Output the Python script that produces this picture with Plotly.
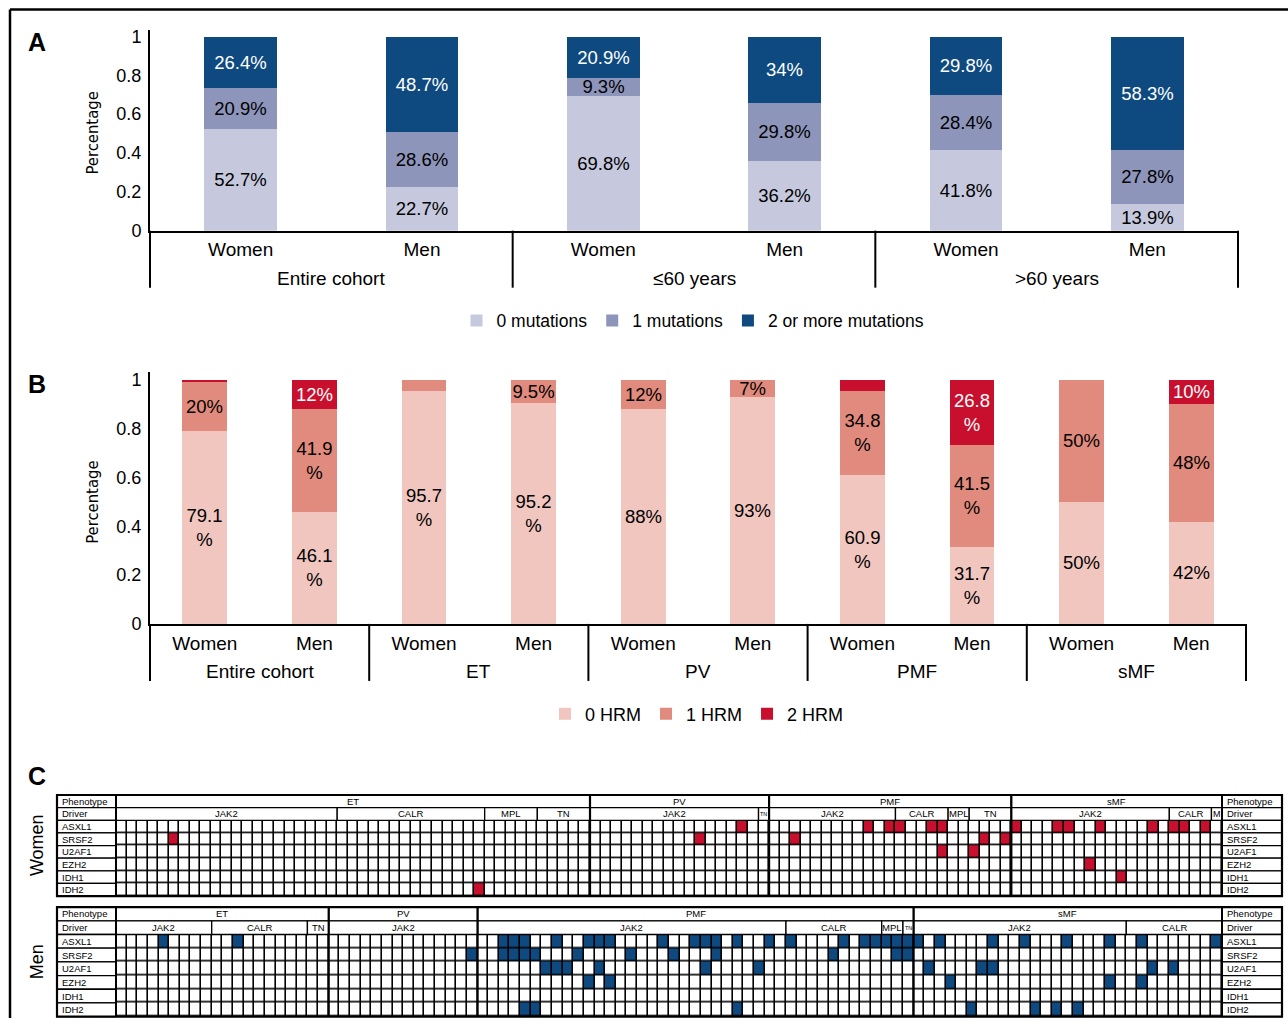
import plotly.graph_objects as go

W, H = 1288, 1028
# vertical correction measured from the photographed page (render = 3.5 + 0.9867*layout)
V_OFF, V_SC = 3.5, 0.9867


def px(x):
    return x / W


def ly(y):
    return min(H, max(0.0, (y - V_OFF) / V_SC))


def py(y):
    return 1 - ly(y) / H


FONT = "Liberation Sans, Arial, Helvetica, sans-serif"
NARROW = "Liberation Sans Narrow, DejaVu Sans Condensed, Arial Narrow, sans-serif"

# ---------------- Panel A data ----------------
a_groups = ["Entire cohort", "\u226460 years", ">60 years"]
a_sexes = ["Women", "Men"]
a_series = ["0 mutations", "1 mutations", "2 or more mutations"]
a_zero = [52.7, 22.7, 69.8, 36.2, 41.8, 13.9]
a_one = [20.9, 28.6, 9.3, 29.8, 28.4, 27.8]
a_two = [26.4, 48.7, 20.9, 34.0, 29.8, 58.3]

# ---------------- Panel B data ----------------
b_groups = ["Entire cohort", "ET", "PV", "PMF", "sMF"]
b_sexes = ["Women", "Men"]
b_series = ["0 HRM", "1 HRM", "2 HRM"]
b_zero = [79.1, 46.1, 95.7, 90.5, 88.0, 93.0, 60.9, 31.7, 50.0, 42.0]
b_one = [20.0, 41.9, 4.3, 9.5, 12.0, 7.0, 34.8, 41.5, 50.0, 48.0]
b_two = [0.9, 12.0, 0.0, 0.0, 0.0, 0.0, 4.3, 26.8, 0.0, 10.0]
b_zero_lbl = ["79.1<br>%", "46.1<br>%", "95.7<br>%", "95.2<br>%", "88%", "93%",
              "60.9<br>%", "31.7<br>%", "50%", "42%"]
b_one_lbl = ["20%", "41.9<br>%", "", "9.5%", "12%", "7%",
             "34.8<br>%", "41.5<br>%", "50%", "48%"]
b_two_lbl = ["", "12%", "", "", "", "", "", "26.8<br>%", "", "10%"]

# ---------------- Panel C data ----------------
c_rows = ["Phenotype", "Driver", "ASXL1", "SRSF2", "U2AF1", "EZH2", "IDH1", "IDH2"]
c_genes = c_rows[2:]

w_pheno = ["ET", "PV", "PMF", "sMF"]
w_pheno_n = [45, 17, 23, 20]
w_driver = ["JAK2", "CALR", "MPL", "TN", "JAK2", "TN", "JAK2", "CALR", "MPL", "TN",
            "JAK2", "CALR", "M"]
w_driver_n = [21, 14, 5, 5, 16, 1, 12, 5, 2, 4, 15, 4, 1]
w_mut = {
    "ASXL1": [59, 71, 73, 74, 77, 78, 85, 89, 90, 93, 98, 100, 101, 103],
    "SRSF2": [5, 55, 64, 82, 84],
    "U2AF1": [78, 81],
    "EZH2": [92],
    "IDH1": [95],
    "IDH2": [34],
}

m_pheno = ["ET", "PV", "PMF", "sMF"]
m_pheno_n = [20, 14, 41, 29]
m_driver = ["JAK2", "CALR", "TN", "JAK2", "JAK2", "CALR", "MPL", "TN", "JAK2", "CALR"]
m_driver_n = [9, 9, 2, 14, 29, 9, 2, 1, 20, 9]
m_mut = {
    "ASXL1": [4, 11, 36, 37, 38, 41, 44, 45, 46, 51, 54, 55, 56, 58, 61,
              63, 68, 70, 71, 72, 73, 74, 75, 77, 82, 85, 89, 93, 96, 103],
    "SRSF2": [33, 36, 37, 38, 39, 43, 48, 52, 56, 67, 73, 74],
    "U2AF1": [40, 41, 42, 45, 55, 60, 76, 81, 82, 97, 99],
    "EZH2": [44, 46, 78, 93, 96],
    "IDH1": [],
    "IDH2": [38, 39, 58, 80, 86, 88, 90],
}

A_COLORS = ["#c6c9de", "#8e95bb", "#0e4a80"]
B_COLORS = ["#f1c6bf", "#e08b7d", "#c8102e"]
RED = "#c8102e"
BLUE = "#0e4a80"

fig = go.Figure()

# ---------------- Panel A bars ----------------
for vals, name, col, tcol in zip([a_zero, a_one, a_two], a_series, A_COLORS,
                                 ["black", "black", "white"]):
    fig.add_trace(go.Bar(
        x=list(range(len(vals))), y=[v / 100 for v in vals], width=0.4, name=name,
        marker=dict(color=col, line_width=0),
        text=[f"{v:g}%" for v in vals], textposition="inside",
        insidetextanchor="middle", textangle=0,
        textfont=dict(color=tcol, size=18.5, family=FONT),
        xaxis="x", yaxis="y", legend="legend", hoverinfo="skip"))

# ---------------- Panel B bars ----------------
for vals, lbls, name, col, tcol in zip([b_zero, b_one, b_two],
                                       [b_zero_lbl, b_one_lbl, b_two_lbl],
                                       b_series, B_COLORS, ["black", "black", "white"]):
    fig.add_trace(go.Bar(
        x=list(range(len(vals))), y=[v / 100 for v in vals], width=0.41, name=name,
        marker=dict(color=col, line_width=0),
        text=lbls, textposition="inside", insidetextanchor="middle", textangle=0,
        textfont=dict(color=tcol, size=18.5, family=FONT),
        xaxis="x2", yaxis="y2", legend="legend2", hoverinfo="skip"))

shapes = []
annotations = []

# Frame
shapes.append(dict(type="line", xref="paper", yref="paper", x0=px(10), x1=1.0,
                   y0=py(10), y1=py(10), line=dict(color="black", width=2.5)))
shapes.append(dict(type="line", xref="paper", yref="paper", x0=px(10), x1=px(10),
                   y0=0, y1=py(10), line=dict(color="black", width=2.5)))


def ann(text, x, y, size, family=FONT, angle=0, xref="paper", yref="paper",
        xanchor="center"):
    annotations.append(dict(text=text, xref=xref, yref=yref, x=x, y=y,
                            xanchor=xanchor, yanchor="middle", textangle=angle,
                            showarrow=False,
                            font=dict(size=size, family=family, color="black")))


def bar_panel_extras(groups, nbars, dom_px, axis_px, bottom_px, group_y_px, xref):
    r0, r1 = -0.5, nbars - 0.5
    per = nbars // len(groups)
    for g in range(len(groups) + 1):
        xv = -0.5 + g * per
        xp = px(dom_px[0] + (xv - r0) / (r1 - r0) * (dom_px[1] - dom_px[0]))
        shapes.append(dict(type="line", xref="paper", yref="paper", x0=xp, x1=xp,
                           y0=py(bottom_px), y1=py(axis_px),
                           line=dict(color="black", width=2)))
    for g, name in enumerate(groups):
        ann(name, g * per + (per - 1) / 2, py(group_y_px), 19, xref=xref)


bar_panel_extras(a_groups, len(a_zero), (150, 1238), 231, 288, 279, "x")
bar_panel_extras(b_groups, len(b_zero), (150, 1246), 624, 681, 672, "x2")

# Y titles and panel letters
for yy in [134, 503]:
    ann("Percentage", px(93), py(yy), 16.5, family=NARROW, angle=-90)
for letter, xx, yy in [("A", 37, 42), ("B", 37, 384), ("C", 37, 776)]:
    ann(f"<b>{letter}</b>", px(xx), py(yy), 25)
for lbl, yy in [("Women", 845), ("Men", 962)]:
    ann(lbl, px(37), py(yy), 18, angle=-90)

# ---------------- Panel C grids ----------------
GX0, GX1, GL, GR = 116, 1222, 57, 1282


def add_grid(N, pheno, pheno_n, driver, driver_n, mut, color, xa, ya, top, bottom):
    ppc = (GX1 - GX0) / N
    t_l, b_l = ly(top), ly(bottom)
    ppr = (b_l - t_l) / 8
    pad = 2
    pad_b = max(0.0, min(pad, H - b_l))
    Lc = (GX0 - GL) / ppc
    Rc = (GR - GX1) / ppc
    xr = [-(GX0 - GL + pad) / ppc, N + (GR - GX1 + pad) / ppc]
    yr = [8 + pad_b / ppr, -pad / ppr]
    ax_x = dict(domain=[px(GL - pad), px(GR + pad)], range=xr, visible=False,
                fixedrange=True, anchor=ya)
    ax_y = dict(domain=[1 - (b_l + pad_b) / H, 1 - (t_l - pad) / H], range=yr,
                visible=False, fixedrange=True, anchor=xa)
    z = [[1 if c in mut[g] else 0 for c in range(N)] for g in c_genes]
    fig.add_trace(go.Heatmap(
        z=z, x=[c + 0.5 for c in range(N)], y=[r + 2.5 for r in range(len(c_genes))],
        colorscale=[[0, "white"], [1, color]], zmin=0, zmax=1, showscale=False,
        xgap=1.6, ygap=1.6, hoverinfo="skip", xaxis=xa, yaxis=ya))
    xref, yref = xa, ya
    shapes.append(dict(type="rect", xref=xref, yref=yref, x0=0, x1=N, y0=2, y1=8,
                       fillcolor="black", line_width=0, layer="below"))
    # header rows
    for row, names, counts in [(0, pheno, pheno_n), (1, driver, driver_n)]:
        s = 0
        for name, n in zip(names, counts):
            shapes.append(dict(type="rect", xref=xref, yref=yref, x0=s, x1=s + n,
                               y0=row, y1=row + 1, fillcolor="white",
                               line=dict(color="black", width=1.3)))
            fs = 9.5 if n > 1 else (5.5 if len(name) > 1 else 9)
            ann(name, s + n / 2, row + 0.5, fs, xref=xref, yref=yref)
            s += n
    # phenotype boundaries
    s = 0
    for n in pheno_n[:-1]:
        s += n
        shapes.append(dict(type="line", xref=xref, yref=yref, x0=s, x1=s, y0=0, y1=8,
                           line=dict(color="black", width=2.2)))
    # label columns
    for r, name in enumerate(c_rows):
        for x0, x1 in [(-Lc, 0), (N, N + Rc)]:
            shapes.append(dict(type="rect", xref=xref, yref=yref, x0=x0, x1=x1,
                               y0=r, y1=r + 1, fillcolor="white",
                               line=dict(color="black", width=1.3)))
            ann(name, x0 + 3 / ppc, r + 0.5, 9.5, xref=xref, yref=yref,
                xanchor="left")
    shapes.append(dict(type="rect", xref=xref, yref=yref, x0=-Lc, x1=N + Rc, y0=0, y1=8,
                       line=dict(color="black", width=2.2)))
    shapes.append(dict(type="line", xref=xref, yref=yref, x0=0, x1=0, y0=0, y1=8,
                       line=dict(color="black", width=2)))
    shapes.append(dict(type="line", xref=xref, yref=yref, x0=N, x1=N, y0=0, y1=8,
                       line=dict(color="black", width=2)))
    return ax_x, ax_y


x3, y3 = add_grid(sum(w_pheno_n), w_pheno, w_pheno_n, w_driver, w_driver_n, w_mut, RED,
                  "x3", "y3", 795, 896)
x4, y4 = add_grid(sum(m_pheno_n), m_pheno, m_pheno_n, m_driver, m_driver_n, m_mut, BLUE,
                  "x4", "y4", 907, 1016.5)

ytick_vals = [0, 0.2, 0.4, 0.6, 0.8, 1.0]
ytick_text = ["0", "0.2", "0.4", "0.6", "0.8", "1"]


def xaxis_bar(dom, n, sexes, anchor, standoff):
    return dict(domain=[px(dom[0]), px(dom[1])], range=[-0.5, n - 0.5],
                tickvals=list(range(n)), ticktext=sexes * (n // len(sexes)),
                showline=True, linecolor="black", linewidth=2, ticks="",
                tickfont=dict(size=19, family=FONT, color="black"),
                ticklabelstandoff=standoff, showgrid=False, zeroline=False,
                fixedrange=True, anchor=anchor)


def yaxis_bar(bottom, top, unit_px, anchor):
    return dict(domain=[py(bottom), py(top)], range=[0, (bottom - top) / unit_px],
                tickvals=ytick_vals, ticktext=ytick_text, showline=True,
                linecolor="black", linewidth=2, ticks="",
                tickfont=dict(size=18, family=FONT, color="black"),
                ticklabelstandoff=3, showgrid=False, zeroline=False,
                fixedrange=True, anchor=anchor)


fig.update_layout(
    width=W, height=H, margin=dict(l=0, r=0, t=0, b=0), autosize=False,
    paper_bgcolor="white", plot_bgcolor="white",
    barmode="stack", bargap=0,
    font=dict(family=FONT, color="black"),
    uniformtext=dict(minsize=18.5, mode="show"),
    xaxis=xaxis_bar((150, 1238), len(a_zero), a_sexes, "y", 1),
    yaxis=yaxis_bar(231, 30, 194, "x"),
    xaxis2=xaxis_bar((150, 1246), len(b_zero), b_sexes, "y2", 1),
    yaxis2=yaxis_bar(624, 372, 244, "x2"),
    xaxis3=x3, yaxis3=y3, xaxis4=x4, yaxis4=y4,
    legend=dict(orientation="h", x=px(693), xanchor="center", y=py(321),
                yanchor="middle", traceorder="normal",
                font=dict(size=17.5, family=FONT, color="black"),
                bgcolor="rgba(0,0,0,0)", itemclick=False, itemdoubleclick=False),
    legend2=dict(orientation="h", x=px(697), xanchor="center", y=py(714),
                 yanchor="middle", traceorder="normal",
                 font=dict(size=18, family=FONT, color="black"),
                 bgcolor="rgba(0,0,0,0)", itemclick=False, itemdoubleclick=False),
    shapes=shapes, annotations=annotations,
)

fig.write_html(
    "out.html",
    config={"displayModeBar": False, "responsive": False},
    post_script=(
        "var s=document.documentElement.style, b=document.body.style;"
        "s.margin='0';s.padding='0';s.overflow='hidden';s.height='1028px';"
        "b.margin='0';b.padding='0';b.overflow='hidden';b.height='1028px';"
    ),
)
